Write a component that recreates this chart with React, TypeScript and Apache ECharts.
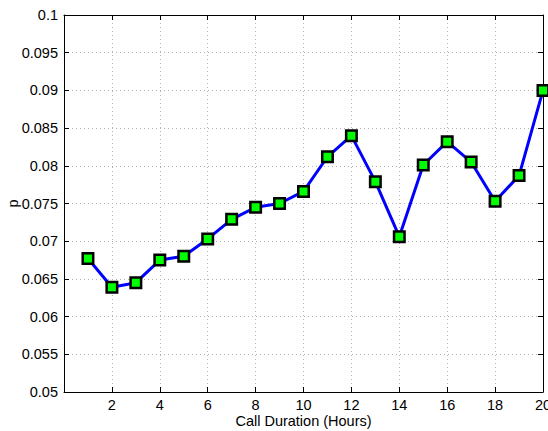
import React, { useEffect, useRef } from "react";
import * as echarts from "echarts";

const hours = [1, 2, 3, 4, 5, 6, 7, 8, 9, 10, 11, 12, 13, 14, 15, 16, 17, 18, 19, 20];
const pValues = [
  0.0677, 0.0639, 0.0645, 0.0675, 0.068, 0.0703, 0.0729, 0.0745, 0.075, 0.0766,
  0.0812, 0.084, 0.0779, 0.0706, 0.0801, 0.0832, 0.0805, 0.0753, 0.0787, 0.09,
];
const xTitle = "Call Duration (Hours)";
const yTitle = "p";

export default function App() {
  const ref = useRef<HTMLDivElement>(null);
  useEffect(() => {
    if (!ref.current) return;
    const chart = echarts.init(ref.current, null, { renderer: "svg" });
    const font = "'Liberation Sans', Arial, Helvetica, sans-serif";
    const fs = 14.5;
    const gridLine = { show: true, lineStyle: { color: "#b0b0b0", type: [1, 3] as any, width: 1 } };
    const axisLine = { show: true, onZero: false, lineStyle: { color: "#000", width: 1 } };
    const tick = { show: true, inside: true, length: 5, lineStyle: { color: "#000" } };
    chart.setOption({
      animation: false,
      backgroundColor: "#fff",
      grid: {
        left: 64,
        right: 5,
        top: 15,
        bottom: 39,
        containLabel: false,
        outerBoundsMode: "none",
      },
      xAxis: [
        {
          type: "value",
          min: 0,
          max: 20,
          interval: 2,
          position: "bottom",
          name: xTitle,
          nameLocation: "middle",
          nameGap: 21,
          nameMoveOverlap: false,
          nameTextStyle: { fontFamily: font, fontSize: fs, color: "#000" },
          axisLine,
          axisTick: tick,
          splitLine: gridLine,
          axisLabel: {
            fontFamily: font,
            fontSize: fs,
            color: "#000",
            margin: 5,
            showMinLabel: false,
            formatter: (v: number) => (v === 0 ? "" : String(v)),
          },
        },
        {
          type: "value",
          min: 0,
          max: 20,
          interval: 2,
          position: "top",
          axisLine,
          axisTick: tick,
          splitLine: { show: false },
          axisLabel: { show: false },
        },
      ],
      yAxis: [
        {
          type: "value",
          min: 0.05,
          max: 0.1,
          interval: 0.005,
          position: "left",
          name: yTitle,
          nameLocation: "middle",
          nameGap: 44,
          nameMoveOverlap: false,
          nameTextStyle: { fontFamily: font, fontSize: fs, color: "#000" },
          axisLine,
          axisTick: tick,
          splitLine: gridLine,
          axisLabel: {
            fontFamily: font,
            fontSize: fs,
            color: "#000",
            margin: 6,
            formatter: (v: number) => String(parseFloat(v.toFixed(3))),
          },
        },
        {
          type: "value",
          min: 0.05,
          max: 0.1,
          interval: 0.005,
          position: "right",
          axisLine,
          axisTick: tick,
          splitLine: { show: false },
          axisLabel: { show: false },
        },
      ],
      series: [
        {
          type: "line",
          data: hours.map((h, i) => [h, pValues[i]]),
          xAxisIndex: 0,
          yAxisIndex: 0,
          symbol: "rect",
          symbolSize: 10.5,
          showAllSymbol: true,
          clip: false,
          lineStyle: { color: "#0000ff", width: 3 },
          itemStyle: { color: "#00ff00", borderColor: "#000", borderWidth: 2.5 },
          z: 5,
        },
      ],
    });
    return () => chart.dispose();
  }, []);
  return (
    <div
      ref={ref}
      style={{ position: "fixed", left: 0, top: 0, width: 548, height: 431, background: "#fff" }}
    />
  );
}
